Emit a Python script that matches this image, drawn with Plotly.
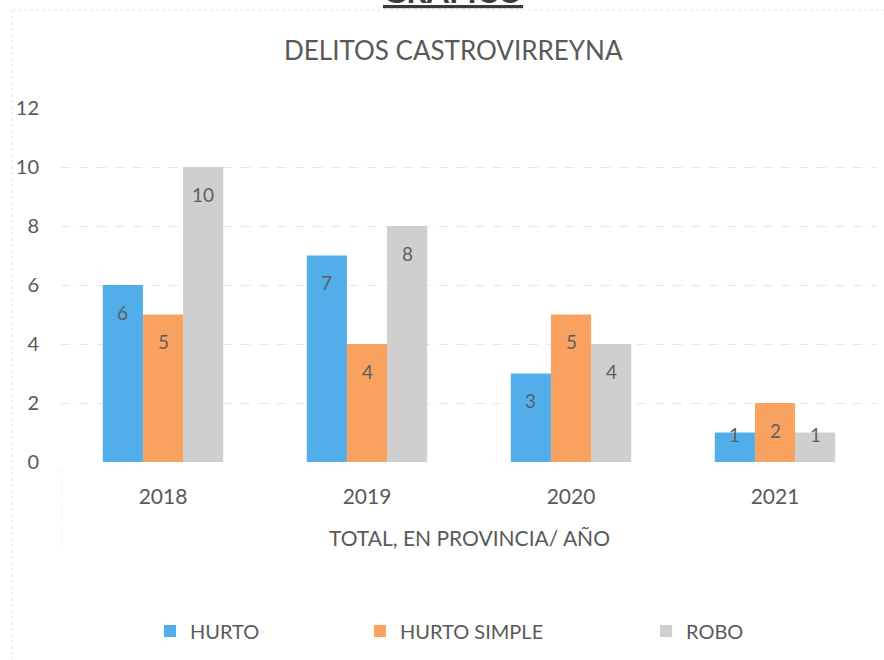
import plotly.graph_objects as go

# Data
years = ["2018", "2019", "2020", "2021"]
hurto = [6, 7, 3, 1]
hurto_simple = [5, 4, 5, 2]
robo = [10, 8, 4, 1]

series_names = ["HURTO", "HURTO SIMPLE", "ROBO"]
series_values = [hurto, hurto_simple, robo]
series_colors = ["#52aeea", "#f9a15f", "#cfcfcf"]

FONT = "Lato"
TEXT_COLOR = "#595959"

W, H = 884, 660
ML, MR, MT, MB = 61, 7, 108, 198
plot_w = W - ML - MR
plot_h = H - MT - MB
y_max = 12
BARGAP = 0.41

fig = go.Figure()
legend_ids = ["legend", "legend2", "legend3"]
for name, vals, color, lg in zip(series_names, series_values, series_colors, legend_ids):
    fig.add_trace(go.Bar(
        name=name, x=years, y=vals,
        marker=dict(color=color, line=dict(width=0)),
        legend=lg,
    ))

fig.update_layout(barmode="group", bargap=BARGAP, bargroupgap=0)

# Value labels placed inside the top of each bar
offset_units = 0.92
bar_w = (1 - BARGAP) / len(series_names)  # bar width in category units
for si, vals in enumerate(series_values):
    for xi, v in enumerate(vals):
        ylab = max(v - offset_units, offset_units)
        fig.add_annotation(
            x=xi + (si - 1) * bar_w, y=ylab, xref="x", yref="y",
            text=str(v), showarrow=False,
            font=dict(family=FONT, size=19, color="#5f5f5f"),
            yanchor="middle", xanchor="center",
        )

# Chart title
fig.add_annotation(
    text="DELITOS CASTROVIRREYNA", x=(453 - ML) / plot_w, xref="paper",
    y=1 + (MT - 50) / plot_h, yref="paper", yanchor="middle",
    showarrow=False, font=dict(family=FONT, size=26, color=TEXT_COLOR),
)
# Page heading, running off the top of the page
fig.add_annotation(
    text="<b><u>GRAFICO</u></b>", x=(453 - ML) / plot_w, xref="paper",
    y=1 + (MT - 12) / plot_h, yref="paper", yanchor="bottom",
    showarrow=False, font=dict(family=FONT, size=32, color="#3a3a3a"),
)
# X axis title
fig.add_annotation(
    text="TOTAL, EN PROVINCIA/ AÑO", x=(469 - ML) / plot_w, xref="paper",
    y=-(537 - MT - plot_h) / plot_h, yref="paper", yanchor="middle",
    showarrow=False, font=dict(family=FONT, size=21, color=TEXT_COLOR),
)

fig.update_yaxes(
    range=[0, y_max], dtick=2, showgrid=True, gridcolor="#e6e6e6", gridwidth=1,
    griddash="dash", zeroline=False, showline=False,
    tickfont=dict(family=FONT, size=20, color=TEXT_COLOR),
    ticklabelstandoff=21,
)
fig.update_xaxes(
    type="category", range=[-0.5, len(years) - 0.5],
    showgrid=False, showline=False, zeroline=False,
    tickfont=dict(family=FONT, size=21, color=TEXT_COLOR),
    ticklabelstandoff=20,
)

leg_common = dict(orientation="h", xref="container", yref="container",
                  yanchor="middle", font=dict(family=FONT, size=20, color=TEXT_COLOR),
                  bgcolor="rgba(0,0,0,0)", itemwidth=30)
legend_x = [150, 360, 646]
leg_y = 1 - 631 / H
fig.update_layout(
    showlegend=True,
    legend=dict(x=legend_x[0] / W, y=leg_y, **leg_common),
    legend2=dict(x=legend_x[1] / W, y=leg_y, **leg_common),
    legend3=dict(x=legend_x[2] / W, y=leg_y, **leg_common),
)

# Faint chart frame lines
frame_x = -(ML - 12) / plot_w
frame_top = 1 + (MT - 10) / plot_h
frame_line = dict(color="#e3e3e3", width=1, dash="dot")
fig.add_shape(type="line", xref="paper", yref="paper",
              x0=frame_x, x1=frame_x, y0=frame_top, y1=-(H - MT - plot_h) / plot_h,
              line=frame_line)
fig.add_shape(type="line", xref="paper", yref="paper",
              x0=frame_x, x1=1.01, y0=frame_top, y1=frame_top,
              line=frame_line)
fig.add_shape(type="line", xref="paper", yref="paper",
              x0=0.001, x1=0.001, y0=-0.02, y1=-(550 - MT - plot_h) / plot_h,
              line=dict(color="#ececec", width=1, dash="dot"))

fig.update_layout(
    width=W, height=H,
    margin=dict(l=ML, r=MR, t=MT, b=MB),
    paper_bgcolor="white", plot_bgcolor="white",
    font=dict(family=FONT, color=TEXT_COLOR),
)

fig.write_html("out.html")
